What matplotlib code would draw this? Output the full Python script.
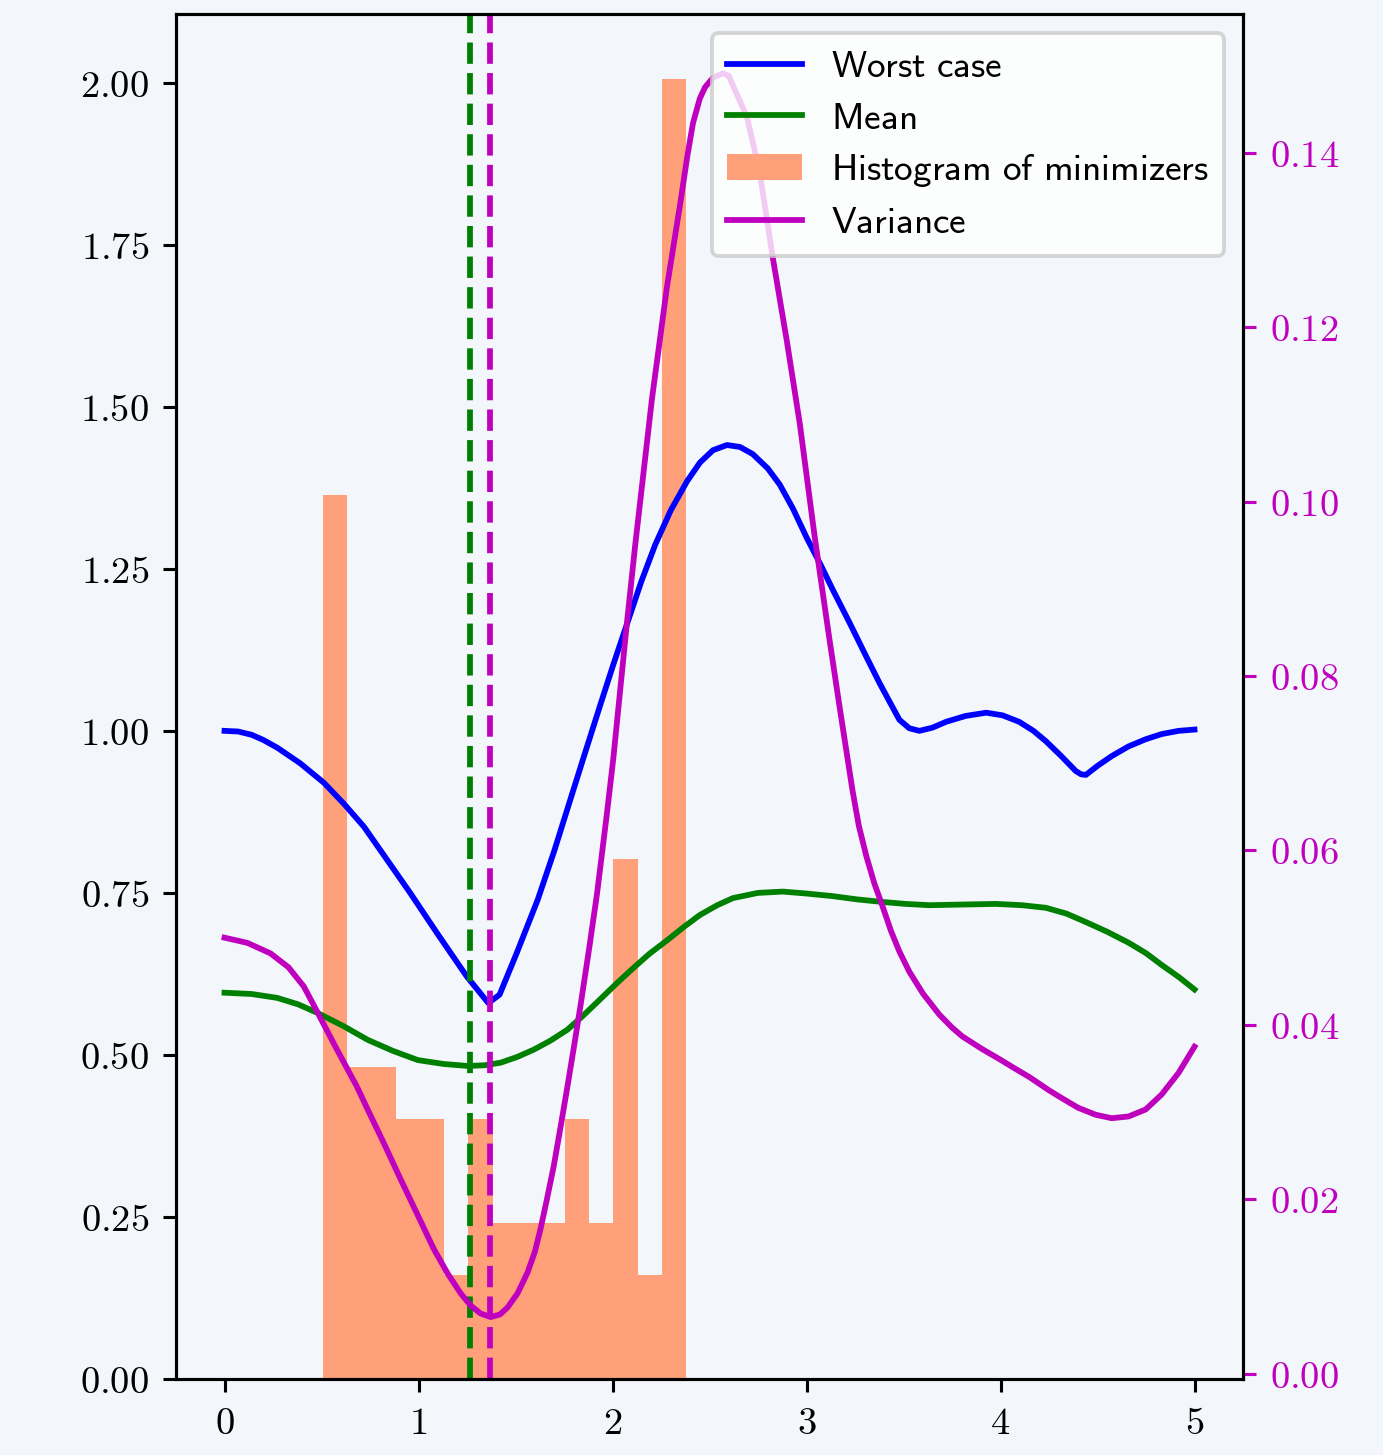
import matplotlib
matplotlib.use("Agg")
import matplotlib.pyplot as plt
from matplotlib.ticker import StrMethodFormatter
import numpy as np

plt.rcParams['mathtext.fontset'] = 'cm'
plt.rcParams['font.size'] = 10

# worst case curve
x_worst = [0.000, 0.070, 0.139, 0.200, 0.272, 0.390, 0.512, 0.617, 0.719, 0.838,
           0.957, 1.100, 1.249, 1.360, 1.418, 1.506, 1.614, 1.700, 1.768, 1.850,
           1.937, 2.005, 2.076, 2.148, 2.220, 2.300, 2.384, 2.451, 2.518, 2.590,
           2.657, 2.723, 2.800, 2.862, 2.930, 3.001, 3.070, 3.135, 3.220, 3.309,
           3.376, 3.430, 3.479, 3.530, 3.582, 3.650, 3.720, 3.820, 3.926, 4.010,
           4.096, 4.170, 4.234, 4.310, 4.388, 4.415, 4.440, 4.500, 4.573, 4.660,
           4.748, 4.830, 4.918, 5.000]
worst = [1.000, 0.999, 0.994, 0.986, 0.974, 0.950, 0.920, 0.887, 0.852, 0.801,
         0.750, 0.686, 0.621, 0.580, 0.593, 0.657, 0.739, 0.815, 0.880, 0.958,
         1.040, 1.103, 1.166, 1.230, 1.287, 1.340, 1.385, 1.414, 1.433, 1.441,
         1.438, 1.427, 1.405, 1.380, 1.343, 1.298, 1.258, 1.218, 1.168, 1.114,
         1.074, 1.044, 1.017, 1.004, 1.000, 1.005, 1.014, 1.023, 1.028, 1.024,
         1.014, 1.000, 0.984, 0.962, 0.938, 0.933, 0.932, 0.946, 0.961, 0.976,
         0.987, 0.995, 1.000, 1.002]

# mean curve
x_mean = [0.000, 0.140, 0.272, 0.380, 0.478, 0.610, 0.740, 0.870, 0.997, 1.130,
          1.254, 1.340, 1.423, 1.510, 1.593, 1.680, 1.768, 1.850, 1.937, 2.020,
          2.107, 2.190, 2.282, 2.370, 2.451, 2.540, 2.621, 2.750, 2.878, 3.000,
          3.135, 3.260, 3.392, 3.510, 3.633, 3.800, 3.977, 4.110, 4.234, 4.340,
          4.440, 4.550, 4.661, 4.750, 4.830, 4.920, 5.000]
mean = [0.596, 0.594, 0.588, 0.578, 0.565, 0.545, 0.523, 0.506, 0.492, 0.486,
        0.483, 0.484, 0.488, 0.497, 0.508, 0.522, 0.539, 0.561, 0.586, 0.610,
        0.634, 0.656, 0.677, 0.698, 0.716, 0.731, 0.742, 0.750, 0.752, 0.749,
        0.745, 0.740, 0.736, 0.733, 0.731, 0.732, 0.733, 0.731, 0.727, 0.718,
        0.705, 0.690, 0.673, 0.657, 0.639, 0.620, 0.601]

# variance curve (right axis)
x_var = [0.000, 0.118, 0.237, 0.330, 0.409, 0.478, 0.567, 0.683, 0.738, 0.820,
         0.910, 1.000, 1.079, 1.150, 1.218, 1.270, 1.321, 1.372, 1.420, 1.459,
         1.510, 1.562, 1.600, 1.629, 1.660, 1.697, 1.730, 1.766, 1.800, 1.835,
         1.880, 1.920, 1.970, 2.004, 2.074, 2.117, 2.203, 2.280, 2.348, 2.385,
         2.415, 2.450, 2.477, 2.518, 2.569, 2.600, 2.621, 2.693, 2.760, 2.826,
         2.898, 2.965, 3.042, 3.119, 3.171, 3.237, 3.270, 3.309, 3.350, 3.392,
         3.435, 3.479, 3.530, 3.600, 3.684, 3.750, 3.802, 3.900, 4.000, 4.059,
         4.150, 4.250, 4.316, 4.400, 4.490, 4.573, 4.660, 4.748, 4.830, 4.918,
         5.000]
variance = [0.0500, 0.0494, 0.0482, 0.0466, 0.0444, 0.0415, 0.0377, 0.0329, 0.0303, 0.0265,
            0.0222, 0.0180, 0.0143, 0.0115, 0.0092, 0.0078, 0.0069, 0.0065, 0.0068, 0.0076,
            0.0092, 0.0116, 0.0140, 0.0166, 0.0198, 0.0238, 0.0280, 0.0327, 0.0373, 0.0422,
            0.0488, 0.0550, 0.0640, 0.0705, 0.0860, 0.0950, 0.1117, 0.1245, 0.1340, 0.1395,
            0.1434, 0.1462, 0.1475, 0.1486, 0.1491, 0.1488, 0.1477, 0.1441, 0.1376, 0.1280,
            0.1185, 0.1090, 0.0960, 0.0841, 0.0764, 0.0669, 0.0628, 0.0593, 0.0562, 0.0536,
            0.0508, 0.0484, 0.0461, 0.0436, 0.0412, 0.0397, 0.0387, 0.0373, 0.0360, 0.0352,
            0.0340, 0.0325, 0.0316, 0.0305, 0.0297, 0.0293, 0.0295, 0.0303, 0.0320, 0.0345,
            0.0375]

# histogram of minimizers (counts per bin, 100 samples)
bin_edges = np.linspace(0.509, 2.379, 16)
counts = [17, 6, 6, 5, 5, 2, 5, 3, 3, 3, 5, 3, 10, 2, 25]

x_min_mean = 1.264
x_min_var = 1.367

bg = '#f3f6fa'
fig = plt.figure(figsize=(1383 / 277, 1455 / 277), dpi=277, facecolor=bg)
ax = fig.add_axes([176 / 1383, 76 / 1455, 1067 / 1383, 1365 / 1455])
ax.set_facecolor(bg)

centers = (bin_edges[:-1] + bin_edges[1:]) / 2
_, _, hist_patches = ax.hist(centers, bins=bin_edges, weights=counts, density=True,
                             color='lightsalmon', label=r'$\mathsf{Histogram\ of\ minimizers}$')
l_worst, = ax.plot(x_worst, worst, color='b', lw=1.5, label=r'$\mathsf{Worst\ case}$')
l_mean, = ax.plot(x_mean, mean, color='g', lw=1.5, label=r'$\mathsf{Mean}$')
ax.axvline(x_min_mean, color='g', ls='--', lw=1.5)
ax.axvline(x_min_var, color='m', ls='--', lw=1.5)

ax2 = ax.twinx()
l_var, = ax2.plot(x_var, variance, color='m', lw=1.5, label=r'$\mathsf{Variance}$')

ax.set_xlim(-0.25, 5.25)
ax.set_ylim(0, 2.106)
ax2.set_ylim(-0.0006, 0.1559)
ax.set_yticks([0, 0.25, 0.5, 0.75, 1.0, 1.25, 1.5, 1.75, 2.0])
ax.set_xticks([0, 1, 2, 3, 4, 5])
ax2.set_yticks([0, 0.02, 0.04, 0.06, 0.08, 0.10, 0.12, 0.14])
ax.xaxis.set_major_formatter(StrMethodFormatter('${x:.0f}$'))
ax.yaxis.set_major_formatter(StrMethodFormatter('${x:.2f}$'))
ax2.yaxis.set_major_formatter(StrMethodFormatter('${x:.2f}$'))
ax2.tick_params(axis='y', colors='m')
ax.set_xlabel('$t$')

ax2.legend([l_worst, l_mean, hist_patches[0], l_var],
           [l_worst.get_label(), l_mean.get_label(), hist_patches[0].get_label(), l_var.get_label()],
           loc='upper right', fontsize=9.7, labelspacing=0.40)

fig.savefig('out.png', dpi=277, facecolor=bg)
